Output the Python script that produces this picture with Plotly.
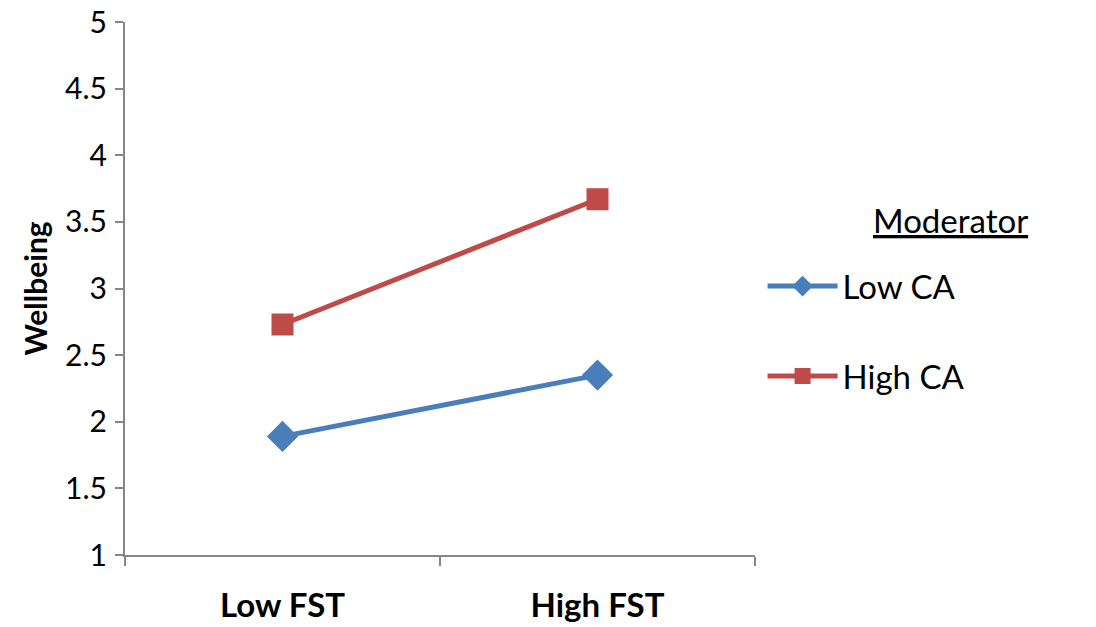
import plotly.graph_objects as go

categories = ["Low FST", "High FST"]
low_ca = [1.89, 2.35]
high_ca = [2.73, 3.67]
series_names = ["Low CA", "High CA"]
y_ticks = [1, 1.5, 2, 2.5, 3, 3.5, 4, 4.5, 5]

fig = go.Figure()
fig.add_trace(go.Scatter(
    x=categories, y=low_ca, name=series_names[0], mode="lines+markers",
    line=dict(color="#4A7EBB", width=5),
    marker=dict(symbol="diamond", size=24, color="#4A7EBB"),
    legendgroup="a",
))
fig.add_trace(go.Scatter(
    x=categories, y=high_ca, name=series_names[1], mode="lines+markers",
    line=dict(color="#BE4B48", width=5),
    marker=dict(symbol="square", size=22, color="#BE4B48"),
    legendgroup="b",
))

fig.update_layout(
    width=1096, height=627,
    margin=dict(l=125, r=341, t=22, b=72, autoexpand=False),
    paper_bgcolor="white", plot_bgcolor="white",
    font=dict(family="Lato", color="black"),
    xaxis=dict(
        type="category", range=[-0.5, 1.5], tickson="boundaries",
        showline=True, linecolor="#868686", linewidth=2,
        ticks="outside", ticklen=9, tickwidth=2, tickcolor="#868686",
        tickfont=dict(size=33, family="Lato", weight="bold"),
        ticklabelstandoff=20, showgrid=False, zeroline=False, automargin=False,
    ),
    yaxis=dict(
        range=[1, 5], tickvals=y_ticks, ticktext=[f"{v:g}" for v in y_ticks],
        showline=True, linecolor="#868686", linewidth=2,
        ticks="outside", ticklen=8, tickwidth=2, tickcolor="#868686",
        tickfont=dict(size=30, family="Lato"), ticklabelstandoff=2,
        ticklabeloverflow="allow",
        showgrid=False, zeroline=False, automargin=False,
    ),
    legend=dict(
        x=1.012, xanchor="left", y=0.557, yanchor="top",
        font=dict(size=33, family="Lato"),
        tracegroupgap=44, bgcolor="rgba(0,0,0,0)", itemwidth=70,
    ),
    showlegend=True,
)

fig.add_annotation(
    text="<b>Wellbeing</b>", xref="paper", yref="paper",
    x=-0.143, y=0.5, xanchor="center", yanchor="middle",
    textangle=-90, showarrow=False, font=dict(size=30, family="Lato"),
)
fig.add_annotation(
    text="<u>Moderator</u>", xref="paper", yref="paper",
    x=1.31, y=0.628, xanchor="center", yanchor="middle",
    showarrow=False, font=dict(size=33, family="Lato"),
)

fig.write_html("out.html", config={"displayModeBar": False},
               post_script="document.body.style.margin='0';")
